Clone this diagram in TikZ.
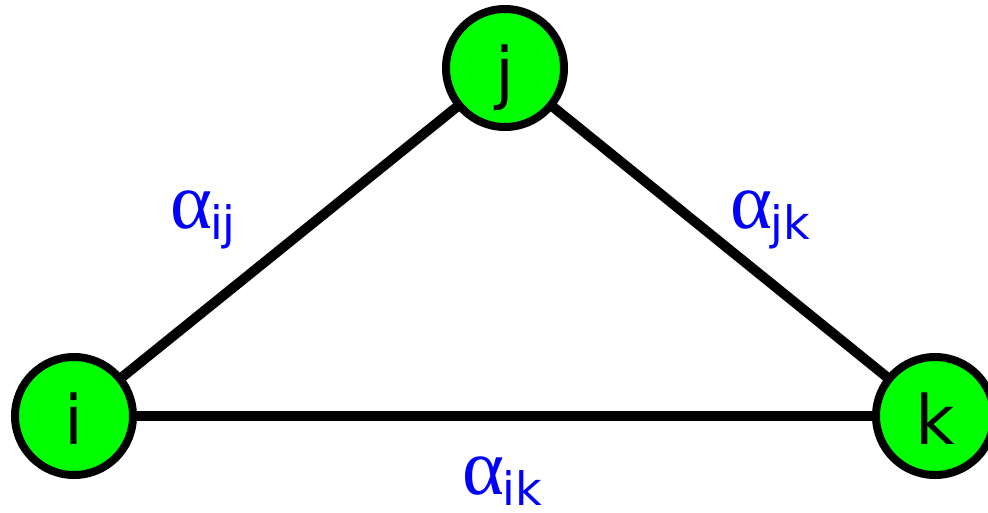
\documentclass[tikz,border=0pt]{standalone}
\usepackage{fontspec}
\setmainfont{DejaVu Sans}
\newfontfamily\alphafont{Liberation Serif}
\usetikzlibrary{backgrounds}
\newcommand{\alab}[1]{{\alphafont\fontsize{80}{80}\selectfont α}\kern-2pt\raisebox{-11pt}{\fontsize{46}{46}\selectfont #1}}
\begin{document}
\begin{tikzpicture}[x=1pt,y=-1pt,
  vtx/.style={circle, draw=black, line width=8pt, fill=green, minimum size=118pt,
    inner sep=0pt, text height=56pt, text depth=0pt, font=\fontsize{68}{68}\selectfont},
  edge/.style={line width=10pt, draw=black},
  lab/.style={text=blue, inner sep=0pt}]
\useasboundingbox (0,0) rectangle (988,512);
\node[vtx] (j) at (505,68) {j};
\node[vtx] (i) at (74,416) {i};
\node[vtx] (k) at (935,416) {k};
\begin{scope}[on background layer]
\draw[edge] (i.center) -- (j.center);
\draw[edge] (j.center) -- (k.center);
\draw[edge] (i.center) -- (k.center);
\end{scope}
\node[lab] (aij) at (203,220) {\alab{ij}};
\node[lab] (ajk) at (770,220) {\alab{jk}};
\node[lab] (aik) at (502,481) {\alab{ik}};
\end{tikzpicture}
\end{document}
